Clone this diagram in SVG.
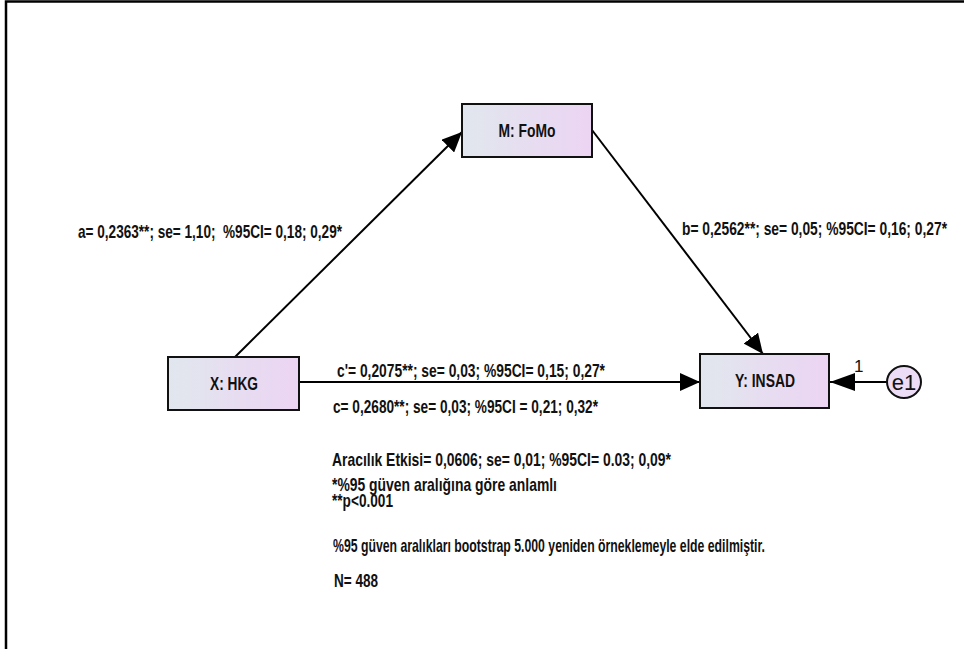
<svg xmlns="http://www.w3.org/2000/svg" width="964" height="649" viewBox="0 0 964 649">
<style>
.lbl{font-family:"Liberation Sans",Arial,sans-serif;font-weight:bold;font-size:18.5px;fill:#111}
.box{fill:url(#g);stroke:#111;stroke-width:2}
.edge{stroke:#000;stroke-width:2;fill:none}
.reg{font-family:"Liberation Sans",Arial,Helvetica,sans-serif;font-weight:normal;fill:#111}
</style>
<defs>
<linearGradient id="g" x1="0" y1="0" x2="1" y2="0">
<stop offset="0" stop-color="#e1e7ee"/>
<stop offset="1" stop-color="#ecd4f3"/>
</linearGradient>
<marker id="ah" viewBox="0 0 20 18" refX="20" refY="9" markerWidth="20" markerHeight="18" markerUnits="userSpaceOnUse" orient="auto">
<path d="M0,0 L20,9 L0,18 Z" fill="#000"/>
</marker>
<marker id="ah2" viewBox="0 0 25 18" refX="25" refY="9" markerWidth="25" markerHeight="18" markerUnits="userSpaceOnUse" orient="auto">
<path d="M0,0 L25,9 L0,18 Z" fill="#000"/>
</marker>
</defs>
<rect width="964" height="649" fill="#fff"/>
<path d="M6,649 V1.5 H964" stroke="#000" stroke-width="2.5" fill="none"/>
<g id="connectors">
<line class="edge" x1="235" y1="357" x2="462" y2="132" marker-end="url(#ah)"/>
<line class="edge" x1="592" y1="130" x2="763" y2="354" marker-end="url(#ah)"/>
<line class="edge" x1="299" y1="382" x2="700" y2="382" marker-end="url(#ah)"/>
<line class="edge" x1="887" y1="382" x2="830" y2="382" marker-end="url(#ah2)"/>
<text class="reg" x="854" y="372" font-size="17">1</text>
</g>
<g id="node-M">
<rect class="box" x="462" y="104" width="130" height="53"/>
<text class="lbl" x="527" y="137" text-anchor="middle" font-size="18" textLength="57" lengthAdjust="spacingAndGlyphs">M: FoMo</text>
</g>
<g id="node-X">
<rect class="box" x="168" y="357" width="131" height="53"/>
<text class="lbl" x="234" y="390" text-anchor="middle" font-size="18" textLength="48" lengthAdjust="spacingAndGlyphs">X: HKG</text>
</g>
<g id="node-Y">
<rect class="box" x="700" y="354" width="129" height="54"/>
<text class="lbl" x="765" y="387" text-anchor="middle" font-size="18" textLength="60" lengthAdjust="spacingAndGlyphs">Y: INSAD</text>
</g>
<g id="node-e1">
<ellipse cx="904" cy="382" rx="17" ry="16" fill="#ecdcf5" stroke="#111" stroke-width="2"/>
<text class="reg" x="904" y="390" text-anchor="middle" font-size="22">e1</text>
</g>
<g id="labels">
<text class="lbl" x="78" y="238" textLength="264" lengthAdjust="spacingAndGlyphs" xml:space="preserve">a= 0,2363**; se= 1,10;  %95CI= 0,18; 0,29*</text>
<text class="lbl" x="682" y="235" textLength="265" lengthAdjust="spacingAndGlyphs">b= 0,2562**; se= 0,05; %95CI= 0,16; 0,27*</text>
<text class="lbl" x="337" y="377" textLength="268" lengthAdjust="spacingAndGlyphs">c'= 0,2075**; se= 0,03; %95CI= 0,15; 0,27*</text>
<text class="lbl" x="333" y="413" textLength="265" lengthAdjust="spacingAndGlyphs">c= 0,2680**; se= 0,03; %95CI = 0,21; 0,32*</text>
<text class="lbl" x="332" y="466" textLength="339" lengthAdjust="spacingAndGlyphs">Aracılık Etkisi= 0,0606; se= 0,01; %95CI= 0.03; 0,09*</text>
<text class="lbl" x="332" y="491" textLength="225" lengthAdjust="spacingAndGlyphs">*%95 güven aralığına göre anlamlı</text>
<text class="lbl" x="332" y="507" textLength="61" lengthAdjust="spacingAndGlyphs">**p&lt;0.001</text>
<text class="lbl" x="333" y="552" textLength="432" lengthAdjust="spacingAndGlyphs">%95 güven aralıkları bootstrap 5.000 yeniden örneklemeyle elde edilmiştir.</text>
<text class="lbl" x="334" y="587" textLength="44" lengthAdjust="spacingAndGlyphs">N= 488</text>
</g>
</svg>
